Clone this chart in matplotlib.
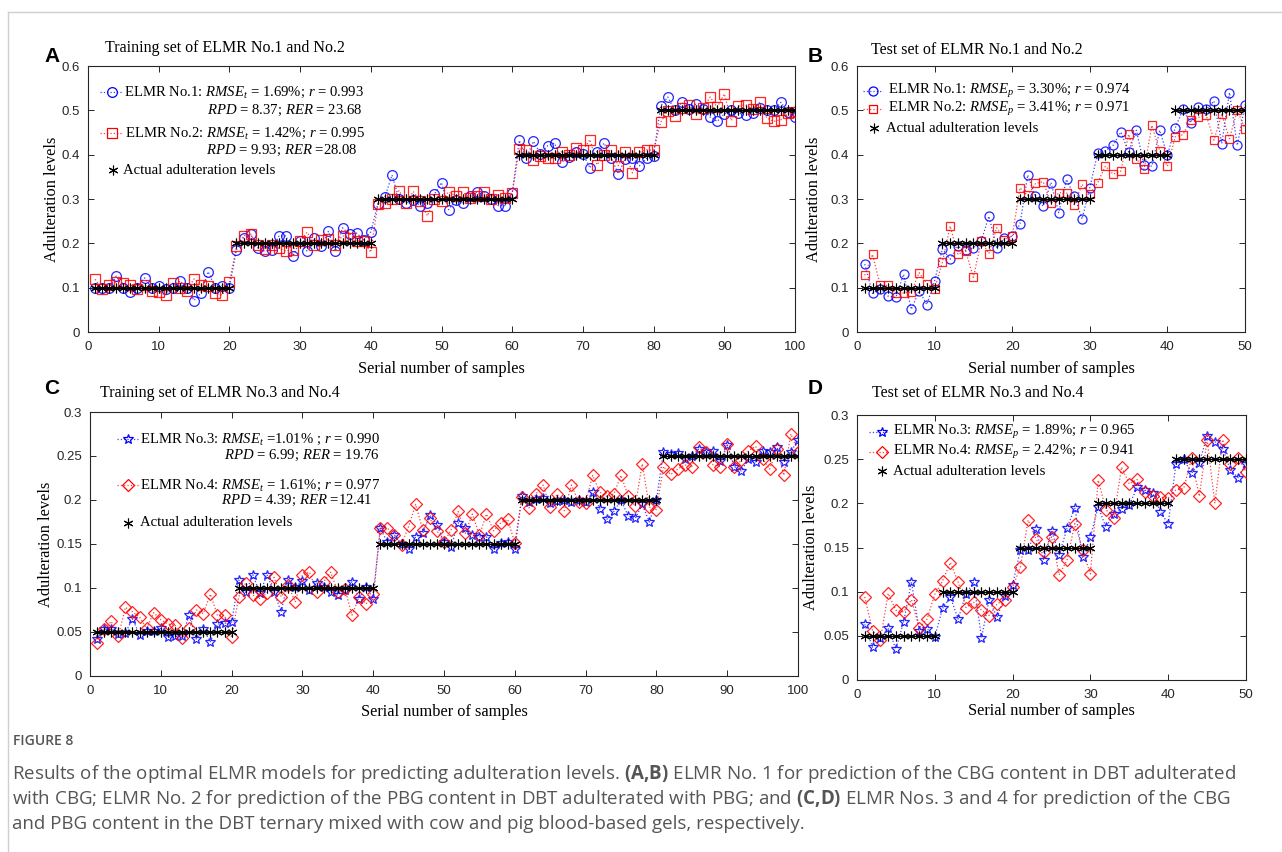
import numpy as np
import matplotlib
matplotlib.use('Agg')
import matplotlib.pyplot as plt
from matplotlib.lines import Line2D

plt.rcParams['font.family'] = 'Liberation Sans'
plt.rcParams['mathtext.fontset'] = 'custom'
plt.rcParams['mathtext.rm'] = 'Liberation Serif'
plt.rcParams['mathtext.it'] = 'Liberation Serif:italic'
plt.rcParams['mathtext.bf'] = 'Open Sans:bold'

# ---------------- data ----------------
A_blue = [0.100, 0.100, 0.100, 0.126, 0.100, 0.090, 0.100, 0.122, 0.100, 0.104,
          0.096, 0.100, 0.115, 0.100, 0.071, 0.088, 0.136, 0.100, 0.104, 0.100,
          0.186, 0.212, 0.220, 0.190, 0.182, 0.186, 0.216, 0.217, 0.172, 0.205,
          0.182, 0.212, 0.193, 0.227, 0.182, 0.235, 0.220, 0.223, 0.208, 0.226,
          0.289, 0.305, 0.354, 0.300, 0.292, 0.298, 0.285, 0.291, 0.311, 0.337,
          0.276, 0.298, 0.292, 0.306, 0.316, 0.306, 0.300, 0.285, 0.285, 0.313,
          0.432, 0.393, 0.430, 0.402, 0.420, 0.426, 0.383, 0.395, 0.405, 0.402,
          0.370, 0.407, 0.426, 0.393, 0.357, 0.391, 0.393, 0.375, 0.392, 0.398,
          0.510, 0.530, 0.500, 0.518, 0.503, 0.514, 0.503, 0.485, 0.475, 0.492,
          0.501, 0.494, 0.489, 0.494, 0.505, 0.500, 0.500, 0.518, 0.496, 0.485]
A_red = [0.119, 0.097, 0.106, 0.113, 0.110, 0.106, 0.097, 0.106, 0.092, 0.090,
         0.083, 0.110, 0.100, 0.093, 0.120, 0.106, 0.104, 0.088, 0.083, 0.112,
         0.193, 0.217, 0.221, 0.196, 0.187, 0.196, 0.189, 0.183, 0.186, 0.205,
         0.225, 0.196, 0.208, 0.209, 0.196, 0.217, 0.212, 0.205, 0.205, 0.180,
         0.289, 0.290, 0.300, 0.319, 0.290, 0.317, 0.295, 0.262, 0.300, 0.296,
         0.316, 0.307, 0.315, 0.303, 0.306, 0.316, 0.300, 0.310, 0.302, 0.313,
         0.413, 0.411, 0.389, 0.396, 0.393, 0.392, 0.407, 0.400, 0.415, 0.410,
         0.434, 0.377, 0.400, 0.411, 0.375, 0.405, 0.359, 0.405, 0.411, 0.410,
         0.473, 0.499, 0.488, 0.505, 0.513, 0.492, 0.505, 0.530, 0.507, 0.537,
         0.477, 0.509, 0.513, 0.503, 0.518, 0.483, 0.475, 0.479, 0.494, 0.496]
A_actual = [0.1] * 20 + [0.2] * 20 + [0.3] * 20 + [0.4] * 20 + [0.5] * 20

B_blue = [0.153, 0.087, 0.098, 0.081, 0.078, 0.130, 0.051, 0.093, 0.062, 0.115,
          0.188, 0.164, 0.193, 0.184, 0.190, 0.205, 0.261, 0.190, 0.211, 0.216,
          0.243, 0.354, 0.306, 0.284, 0.337, 0.269, 0.344, 0.307, 0.255, 0.325,
          0.403, 0.409, 0.421, 0.451, 0.406, 0.455, 0.376, 0.374, 0.455, 0.399,
          0.460, 0.502, 0.472, 0.508, 0.502, 0.521, 0.425, 0.540, 0.421, 0.513]
B_red = [0.128, 0.175, 0.105, 0.105, 0.088, 0.088, 0.090, 0.134, 0.109, 0.097,
         0.157, 0.239, 0.175, 0.183, 0.123, 0.205, 0.177, 0.235, 0.208, 0.216,
         0.325, 0.308, 0.335, 0.339, 0.290, 0.314, 0.314, 0.287, 0.333, 0.311,
         0.336, 0.374, 0.356, 0.363, 0.446, 0.391, 0.367, 0.466, 0.409, 0.374,
         0.440, 0.445, 0.478, 0.484, 0.489, 0.433, 0.491, 0.436, 0.500, 0.459]
B_actual = [0.1] * 10 + [0.2] * 10 + [0.3] * 10 + [0.4] * 10 + [0.5] * 10

C_blue = [0.042, 0.053, 0.053, 0.048, 0.049, 0.065, 0.047, 0.051, 0.051, 0.054,
          0.044, 0.045, 0.045, 0.069, 0.042, 0.053, 0.039, 0.059, 0.060, 0.061,
          0.109, 0.095, 0.115, 0.094, 0.115, 0.095, 0.073, 0.109, 0.101, 0.108,
          0.098, 0.106, 0.101, 0.096, 0.092, 0.098, 0.107, 0.088, 0.101, 0.088,
          0.168, 0.152, 0.160, 0.150, 0.144, 0.158, 0.162, 0.183, 0.172, 0.152,
          0.147, 0.174, 0.168, 0.160, 0.158, 0.158, 0.144, 0.151, 0.152, 0.144,
          0.204, 0.198, 0.201, 0.202, 0.197, 0.199, 0.200, 0.198, 0.200, 0.198,
          0.209, 0.190, 0.178, 0.187, 0.200, 0.182, 0.179, 0.195, 0.175, 0.200,
          0.255, 0.252, 0.253, 0.247, 0.250, 0.258, 0.254, 0.256, 0.244, 0.262,
          0.238, 0.233, 0.247, 0.243, 0.256, 0.255, 0.260, 0.243, 0.255, 0.268]
C_red = [0.038, 0.053, 0.062, 0.045, 0.078, 0.073, 0.067, 0.054, 0.072, 0.064,
         0.059, 0.058, 0.043, 0.054, 0.075, 0.071, 0.093, 0.069, 0.069, 0.044,
         0.090, 0.106, 0.092, 0.088, 0.094, 0.112, 0.090, 0.103, 0.084, 0.115,
         0.118, 0.096, 0.107, 0.118, 0.096, 0.099, 0.069, 0.090, 0.082, 0.093,
         0.168, 0.168, 0.160, 0.149, 0.170, 0.195, 0.166, 0.179, 0.165, 0.152,
         0.166, 0.187, 0.162, 0.184, 0.160, 0.184, 0.165, 0.174, 0.178, 0.151,
         0.203, 0.191, 0.207, 0.217, 0.192, 0.207, 0.188, 0.217, 0.198, 0.197,
         0.228, 0.209, 0.204, 0.207, 0.228, 0.205, 0.193, 0.241, 0.192, 0.189,
         0.238, 0.229, 0.235, 0.240, 0.238, 0.260, 0.254, 0.240, 0.238, 0.264,
         0.238, 0.245, 0.256, 0.261, 0.247, 0.235, 0.258, 0.228, 0.275, 0.255]
C_actual = [0.05] * 20 + [0.10] * 20 + [0.15] * 20 + [0.20] * 20 + [0.25] * 20

D_blue = [0.063, 0.037, 0.047, 0.059, 0.035, 0.066, 0.111, 0.056, 0.058, 0.049,
          0.081, 0.094, 0.069, 0.097, 0.111, 0.048, 0.091, 0.071, 0.095, 0.108,
          0.147, 0.147, 0.171, 0.136, 0.169, 0.142, 0.172, 0.195, 0.139, 0.162,
          0.196, 0.173, 0.188, 0.194, 0.198, 0.218, 0.215, 0.212, 0.190, 0.177,
          0.245, 0.250, 0.234, 0.246, 0.276, 0.270, 0.262, 0.238, 0.229, 0.245]
D_red = [0.094, 0.056, 0.045, 0.098, 0.079, 0.077, 0.091, 0.059, 0.069, 0.097,
         0.112, 0.133, 0.111, 0.082, 0.088, 0.079, 0.073, 0.086, 0.091, 0.105,
         0.128, 0.181, 0.160, 0.145, 0.162, 0.119, 0.136, 0.177, 0.147, 0.120,
         0.226, 0.193, 0.183, 0.241, 0.222, 0.227, 0.213, 0.208, 0.207, 0.206,
         0.215, 0.217, 0.251, 0.208, 0.272, 0.200, 0.272, 0.245, 0.251, 0.236]
D_actual = [0.05] * 10 + [0.10] * 10 + [0.15] * 10 + [0.20] * 10 + [0.25] * 10

xticks_100 = [0, 10, 20, 30, 40, 50, 60, 70, 80, 90, 100]
xticks_50 = [0, 10, 20, 30, 40, 50]
yticks_AB = [0, 0.1, 0.2, 0.3, 0.4, 0.5, 0.6]
yticklabels_AB = ['0', '0.1', '0.2', '0.3', '0.4', '0.5', '0.6']
yticks_CD = [0, 0.05, 0.1, 0.15, 0.2, 0.25, 0.3]
yticklabels_CD = ['0', '0.05', '0.1', '0.15', '0.2', '0.25', '0.3']

titles = ['Training set of ELMR No.1 and No.2', 'Test set of ELMR No.1 and No.2',
          'Training set of ELMR No.3 and No.4', 'Test set of ELMR No.3 and No.4']
xlabel = 'Serial number of samples'
ylabel = 'Adulteration levels'
actual_label = 'Actual adulteration levels'

# ---------------- layout helpers ----------------
W, H = 1282, 852
fig = plt.figure(figsize=(W / 100, H / 100), dpi=100)
fig.patch.set_facecolor('white')

def fx(x):
    return x / W

def fy(y):
    return 1 - y / H

BLUE = '#0000ff'
RED = '#ff0000'
AX_COLOR = '#262626'
SERIF = 'Liberation Serif'
LEG_SIZE = 10.6

def make_axes(l, t, r, b):
    ax = fig.add_axes([fx(l), fy(b), (r - l) / W, (b - t) / H])
    for s in ax.spines.values():
        s.set_color(AX_COLOR)
        s.set_linewidth(0.8)
    ax.tick_params(direction='in', top=True, right=True, length=4.5, width=0.7,
                   color=AX_COLOR, labelcolor=AX_COLOR, labelsize=9.5)
    ax.tick_params(axis='x', pad=6.5)
    ax.tick_params(axis='y', pad=5.5)
    return ax

def draw_panel(ax, blue, red, actual, bmark, rmark, bms, rms, xmax, xticks, ymax, yticks, yticklabels):
    x = np.arange(1, len(blue) + 1)
    ax.plot(x, blue, ls=':', lw=0.9, color=BLUE, alpha=0.75, zorder=2)
    ax.plot(x, blue, ls='none', marker=bmark, ms=bms, mfc='none', mec=BLUE, mew=0.9, alpha=0.85, zorder=3)
    ax.plot(x, red, ls=':', lw=0.9, color=RED, alpha=0.75, zorder=2)
    ax.plot(x, red, ls='none', marker=rmark, ms=rms, mfc='none', mec=RED, mew=0.9, alpha=0.85, zorder=4)
    act = np.asarray(actual)
    start = 0
    for i in range(1, len(act) + 1):
        if i == len(act) or act[i] != act[start]:
            ax.plot(x[start:i], act[start:i], color='k', lw=1.0, zorder=5)
            start = i
    ax.plot(x, act, ls='none', marker=(6, 2, 0), ms=7, color='k', mew=0.8, zorder=6)
    ax.set_xlim(0, xmax)
    ax.set_ylim(0, ymax)
    ax.set_xticks(xticks)
    ax.set_xticklabels([str(v) for v in xticks])
    ax.set_yticks(yticks)
    ax.set_yticklabels(yticklabels)

def handle(xc, y, x0, x1, color, marker, ms, ls=':', lw=0.9):
    fig.add_artist(Line2D([fx(x0), fx(x1)], [fy(y), fy(y)], transform=fig.transFigure,
                          color=color, ls=ls, lw=lw, alpha=0.75))
    fig.add_artist(Line2D([fx(xc)], [fy(y)], transform=fig.transFigure, marker=marker, ms=ms,
                          mfc='none', mec=color, mew=0.9, ls='none'))

def star_handle(xc, y):
    fig.add_artist(Line2D([fx(xc)], [fy(y)], transform=fig.transFigure, marker=(6, 2, 0), ms=7,
                          color='k', mew=0.8, ls='none'))

def ltext(x, y, s, ha='left', size=LEG_SIZE):
    fig.text(fx(x), fy(y), s, ha=ha, va='center', family=SERIF, fontsize=size, color='k')

# ---------------- panel A ----------------
axA = make_axes(88, 66, 795, 332)
draw_panel(axA, A_blue, A_red, A_actual, 'o', 's', 7, 6.5, 100, xticks_100, 0.6, yticks_AB, yticklabels_AB)
handle(112, 92, 100, 122, BLUE, 'o', 7)
ltext(124, 92, r'ELMR No.1: $RMSE_t$ = 1.69%; $r$ = 0.993')
ltext(362, 110, r'$RPD$ = 8.37; $RER$ = 23.68', ha='right')
handle(112, 133, 100, 122, RED, 's', 6.5)
ltext(125, 133, r'ELMR No.2: $RMSE_t$ = 1.42%; $r$ = 0.995')
ltext(358, 150, r'$RPD$ = 9.93; $RER$ =28.08', ha='right')
star_handle(113, 170)
ltext(123, 170, actual_label)

# ---------------- panel B ----------------
axB = make_axes(857, 66, 1245, 332)
draw_panel(axB, B_blue, B_red, B_actual, 'o', 's', 6.5, 6, 50, xticks_50, 0.6, yticks_AB, yticklabels_AB)
handle(873, 91, 863, 883, BLUE, 'o', 6.5)
ltext(888, 91, r'ELMR No.1: $RMSE_p$ = 3.30%; $r$ = 0.974')
handle(873, 109, 863, 883, RED, 's', 6)
ltext(888, 109, r'ELMR No.2: $RMSE_p$ = 3.41%; $r$ = 0.971')
star_handle(874, 128)
ltext(886, 128, actual_label)

# ---------------- panel C ----------------
axC = make_axes(90, 412, 798, 676)
draw_panel(axC, C_blue, C_red, C_actual, '*', 'D', 7.5, 6, 100, xticks_100, 0.3, yticks_CD, yticklabels_CD)
handle(128, 439, 117, 138, BLUE, '*', 7.5)
ltext(140, 439, r'ELMR No.3: $RMSE_t$ =1.01% ; $r$ = 0.990')
ltext(379, 455, r'$RPD$ = 6.99; $RER$ = 19.76', ha='right')
handle(128, 485, 117, 138, RED, 'D', 6)
ltext(140, 485, r'ELMR No.4: $RMSE_t$ = 1.61%; $r$ = 0.977')
ltext(372, 500, r'$RPD$ = 4.39; $RER$ =12.41', ha='right')
star_handle(128, 523)
ltext(140, 523, actual_label)

# ---------------- panel D ----------------
axD = make_axes(857, 415, 1246, 680)
draw_panel(axD, D_blue, D_red, D_actual, '*', 'D', 7, 6, 50, xticks_50, 0.3, yticks_CD, yticklabels_CD)
handle(882, 432, 869, 889, BLUE, '*', 7)
ltext(893, 432, r'ELMR No.3: $RMSE_p$ = 1.89%; $r$ = 0.965')
handle(882, 452, 869, 889, RED, 'D', 6)
ltext(893, 452, r'ELMR No.4: $RMSE_p$ = 2.42%; $r$ = 0.941')
star_handle(882, 471)
ltext(893, 471, actual_label)

# ---------------- titles, labels, letters ----------------
for (x, y), s in zip([(105, 48), (871, 50), (100, 393), (872, 393)], titles):
    fig.text(fx(x), fy(y), s, ha='left', va='center', family=SERIF, fontsize=11.5, color='k')

for x, y in [(441, 369), (1051, 369), (444, 712), (1051, 711)]:
    fig.text(fx(x), fy(y), xlabel, ha='center', va='center', family=SERIF, fontsize=11.8, color='k')

for x, y in [(52, 199), (814, 199), (46, 544), (811, 547)]:
    fig.text(fx(x), fy(y), ylabel, ha='center', va='center', rotation=90, family=SERIF,
             fontsize=11.8, color='k')

for (x, y), s in zip([(52, 57), (815, 57), (52, 388), (815, 388)], 'ABCD'):
    fig.text(fx(x), fy(y), s, ha='center', va='center', family='Liberation Sans',
             fontweight='bold', fontsize=15, color='k')

# ---------------- frame lines ----------------
fig.add_artist(Line2D([fx(8), fx(W)], [fy(12), fy(12)], transform=fig.transFigure, color='#cfcfcf', lw=1))
fig.add_artist(Line2D([fx(8), fx(8)], [fy(12), fy(H)], transform=fig.transFigure, color='#cfcfcf', lw=1))

# ---------------- caption ----------------
CAP = '#555555'
fig.text(fx(13), fy(741), 'FIGURE 8', ha='left', va='center', family='Open Sans', fontsize=10,
         fontweight='semibold', color=CAP)
cap_lines = [
    r'Results of the optimal ELMR models for predicting adulteration levels. $\mathbf{(A{,}B)}$ ELMR No. 1 for prediction of the CBG content in DBT adulterated',
    r'with CBG; ELMR No. 2 for prediction of the PBG content in DBT adulterated with PBG; and $\mathbf{(C{,}D)}$ ELMR Nos. 3 and 4 for prediction of the CBG',
    r'and PBG content in the DBT ternary mixed with cow and pig blood-based gels, respectively.',
]
renderer = fig.canvas.get_renderer()
probe = fig.text(0, 0, cap_lines[0], family='Open Sans', fontsize=12)
w0 = probe.get_window_extent(renderer).width
probe.remove()
cap_size = 12 * 1225.0 / w0
for s, y in zip(cap_lines, [774, 799, 824]):
    fig.text(fx(12), fy(y), s, ha='left', va='center', family='Open Sans', fontsize=cap_size, color=CAP)

fig.savefig('out.png', dpi=100, facecolor='white')
